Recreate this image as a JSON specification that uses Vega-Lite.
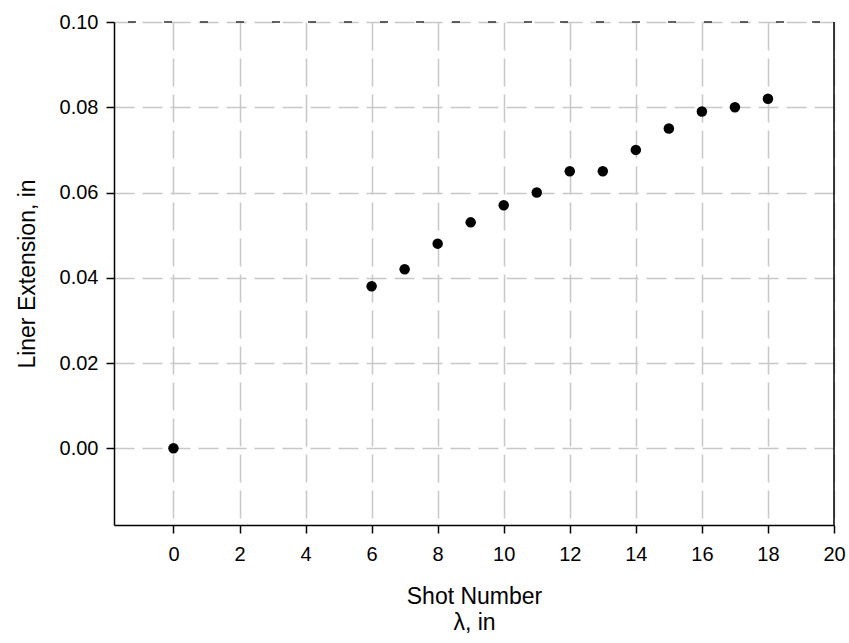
{
  "$schema": "https://vega.github.io/schema/vega-lite/v6.json",
  "width": 720,
  "height": 503,
  "autosize": {"type": "none"},
  "padding": {"left": 114, "top": 22, "right": 15, "bottom": 118},
  "background": "white",
  "config": {
    "view": {"stroke": null},
    "font": "Liberation Sans"
  },
  "data": {
    "values": [
      {"shot": 0, "ext": 0.000},
      {"shot": 6, "ext": 0.038},
      {"shot": 7, "ext": 0.042},
      {"shot": 8, "ext": 0.048},
      {"shot": 9, "ext": 0.053},
      {"shot": 10, "ext": 0.057},
      {"shot": 11, "ext": 0.060},
      {"shot": 12, "ext": 0.065},
      {"shot": 13, "ext": 0.065},
      {"shot": 14, "ext": 0.070},
      {"shot": 15, "ext": 0.075},
      {"shot": 16, "ext": 0.079},
      {"shot": 17, "ext": 0.080},
      {"shot": 18, "ext": 0.082}
    ]
  },
  "layer": [
    {
      "mark": {"type": "point", "filled": true, "color": "black", "opacity": 1, "size": 110},
      "encoding": {
        "x": {
          "field": "shot", "type": "quantitative",
          "scale": {"domain": [-1.8, 20], "nice": false, "zero": false},
          "axis": {
            "values": [0, 2, 4, 6, 8, 10, 12, 14, 16, 18, 20],
            "title": ["Shot Number", "λ, in"],
            "titleFont": "Liberation Sans", "titleFontSize": 23, "titleFontWeight": "normal",
            "titleColor": "black", "titlePadding": 21, "titleLineHeight": 26,
            "labelFont": "Liberation Sans", "labelFontSize": 20, "labelColor": "black", "labelPadding": 11,
            "labelFlush": false,
            "domainColor": "black", "domainWidth": 1.5,
            "tickColor": "black", "tickWidth": 1.5, "tickSize": 8,
            "grid": true, "gridColor": "#c8c8c8", "gridDash": [28, 8], "gridWidth": 1.5
          }
        },
        "y": {
          "field": "ext", "type": "quantitative",
          "scale": {"domain": [-0.018, 0.1], "nice": false, "zero": false},
          "axis": {
            "values": [0, 0.02, 0.04, 0.06, 0.08, 0.1],
            "format": ".2f",
            "title": "Liner Extension, in",
            "titleFont": "Liberation Sans", "titleFontSize": 23, "titleFontWeight": "normal",
            "titleColor": "black", "titlePadding": 20,
            "labelFont": "Liberation Sans", "labelFontSize": 20, "labelColor": "black", "labelPadding": 8,
            "labelFlush": false,
            "domainColor": "black", "domainWidth": 1.5,
            "tickColor": "black", "tickWidth": 1.5, "tickSize": 8,
            "grid": true, "gridColor": "#c8c8c8", "gridDash": [20, 8], "gridWidth": 1.5
          }
        }
      }
    },
    {
      "data": {"values": [{"edge": 20}]},
      "mark": {"type": "rule", "color": "black", "strokeWidth": 1.5},
      "encoding": {
        "x": {"field": "edge", "type": "quantitative", "scale": {"domain": [-1.8, 20], "nice": false, "zero": false}}
      }
    },
    {
      "data": {"values": [{"top": 0.1}]},
      "mark": {"type": "rule", "color": "#333333", "strokeWidth": 1.5, "strokeDash": [8, 28], "strokeDashOffset": -14},
      "encoding": {
        "y": {"field": "top", "type": "quantitative", "scale": {"domain": [-0.018, 0.1], "nice": false, "zero": false}}
      }
    }
  ]
}
